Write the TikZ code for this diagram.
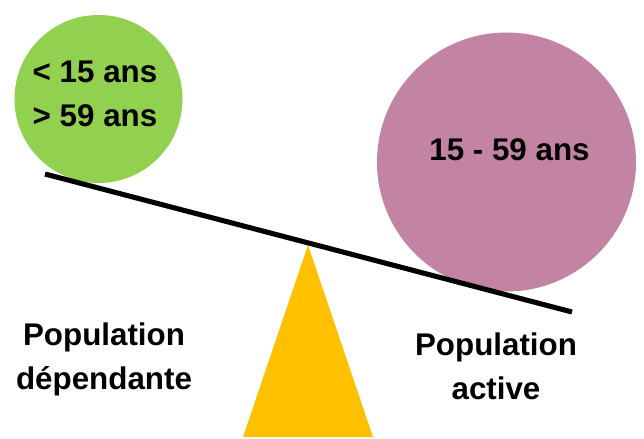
\documentclass[tikz,border=0pt]{standalone}
\usepackage{fontspec}
\setmainfont{Liberation Sans}
\usetikzlibrary{calc}

\tikzset{
  ageball/.style={circle, draw=none, inner sep=0pt},
  agelabel/.style={inner sep=0.75pt, align=center, font=\fontsize{23.5}{33}\selectfont\bfseries},
}

\begin{document}
\begin{tikzpicture}[x=0.75pt,y=0.75pt,yscale=-1,xscale=1]
\useasboundingbox (0,0) rectangle (644,439);

%Shape: Circle [green]
\node [ageball, fill={rgb, 255:red, 146; green, 208; blue, 80 }, minimum size=168*0.75pt] (dependants) at (98.5,99) {};
%Shape: Circle [pink]
\node [ageball, fill={rgb, 255:red, 195; green, 131; blue, 163 }, minimum size=259*0.75pt] (actifs) at (506.5,162) {};

%Shape: Triangle
\coordinate (pivot) at (308,245);
\fill [fill={rgb, 255:red, 255; green, 192; blue, 0 }] (pivot) -- (373,437) -- (243,437) -- cycle ;

%Shape: Line
\coordinate (beamleft) at (45,174);
\coordinate (beamright) at (572,312);
\draw [line width=3.8pt] (beamleft) -- (beamright) ;

% Text Node
\node [agelabel] (agesdep) at (95,94) {< 15 ans\\> 59 ans};
% Text Node
\node [agelabel] (agesact) at (509.5,150) {15 - 59 ans};
% Text Node
\node [agelabel] (popdep) at (104,359) {Population\\dépendante};
% Text Node
\node [agelabel] (popact) at (496,366) {Population\\active};

\end{tikzpicture}
\end{document}
